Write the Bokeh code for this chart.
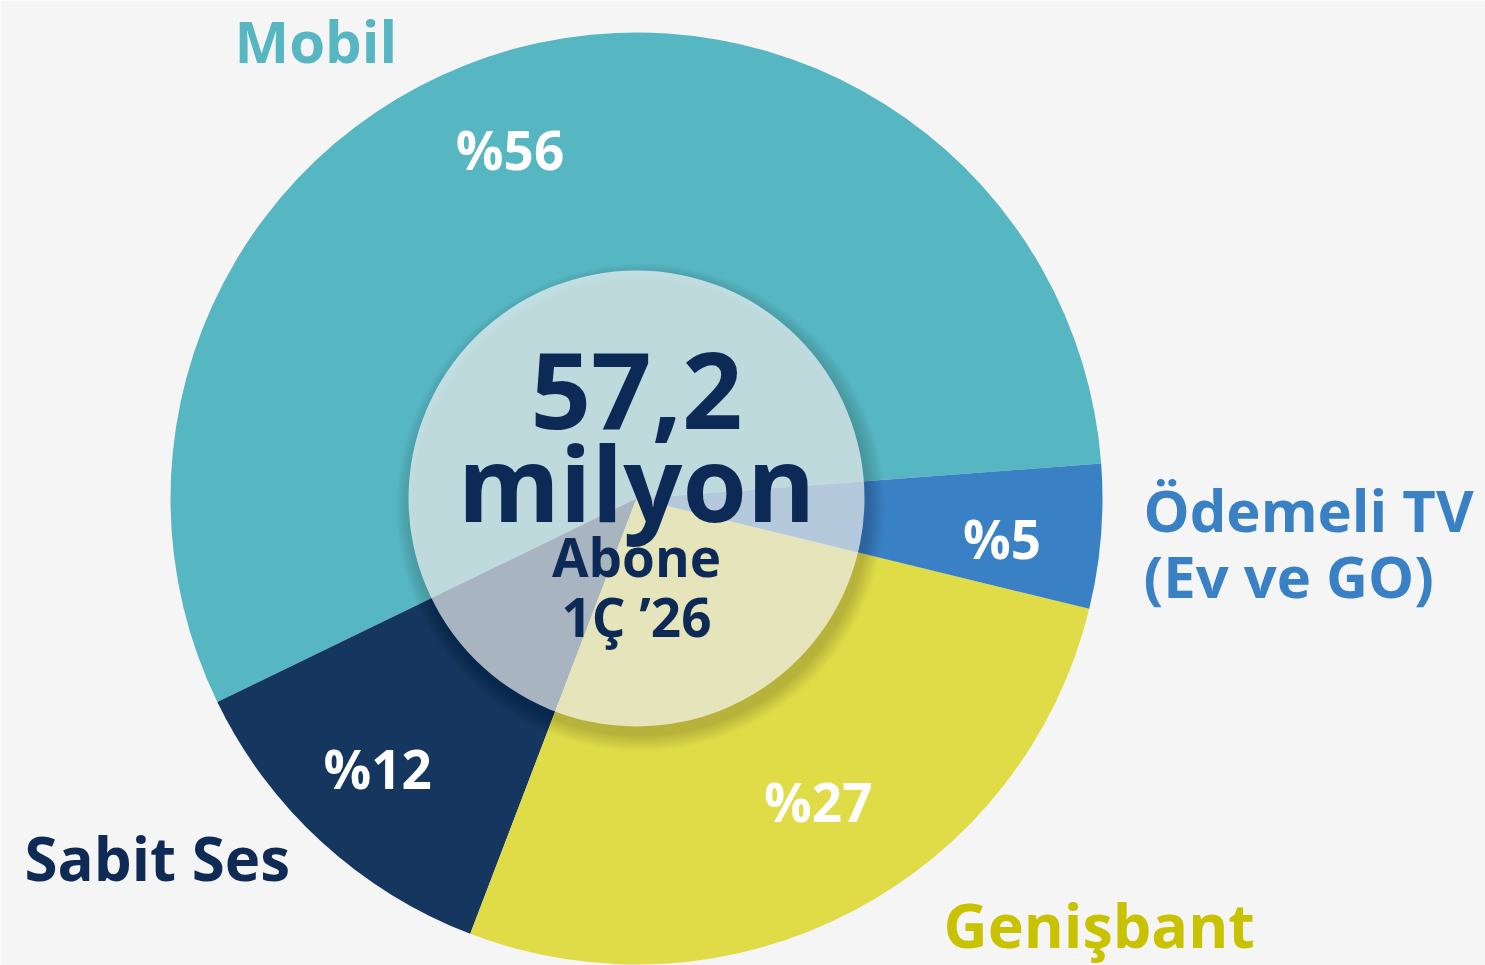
import math
from bokeh.plotting import figure
from bokeh.models import Range1d, ColumnDataSource
from bokeh.core.properties import value
from bokeh.embed import file_html
from bokeh.resources import INLINE

# ---- data ----
categories = ["Mobil", "Sabit Ses", "Genişbant", "Ödemeli TV\n(Ev ve GO)"]
shares = [56, 12, 27, 5]
pct_labels = ["%56", "%12", "%27", "%5"]
colors = ["#56b6c2", "#15365f", "#e0dc48", "#3a80c4"]
label_colors = ["#56b6c2", "#0e2a55", "#c8c200", "#3a80c4"]
total_value = "57,2"
total_unit = "milyon"
sub1 = "Abone"
sub2 = "1Ç ’26"

FONT = value("Open Sans")
W, H = 1485, 965

def Y(ry):
    return H - ry

p = figure(width=W, height=H, x_range=Range1d(0, W), y_range=Range1d(0, H),
           output_backend="svg", toolbar_location=None, min_border=0)
p.axis.visible = False
p.grid.visible = False
p.outline_line_color = None
p.background_fill_color = "#f5f5f5"
p.border_fill_color = "#f5f5f5"

cx, cy = 636, Y(498)
R = 466
r_in = 228
start_deg = 4.3

# ---- wedges ----
tot = sum(shares)
starts, ends, mids = [], [], []
a = math.radians(start_deg)
for s in shares:
    da = 2 * math.pi * s / tot
    starts.append(a)
    ends.append(a + da)
    mids.append(a + da / 2)
    a += da

src = ColumnDataSource(dict(start=starts, end=ends, color=colors))
p.wedge(x=cx, y=cy, radius=R, start_angle="start", end_angle="end",
        fill_color="color", line_color=None, source=src)

# ---- percentage labels along mid angles ----
nudge_deg = [5, -1, 3, -2]
lab_r = [368, 376, 356, 368]
lx = [cx + lab_r[i] * math.cos(mids[i] + math.radians(nudge_deg[i])) for i in range(4)]
ly = [cy + lab_r[i] * math.sin(mids[i] + math.radians(nudge_deg[i])) + 3 for i in range(4)]
p.text(x=lx, y=ly, text=pct_labels, text_color="white", text_font=FONT,
       text_font_style="bold", text_font_size="53px", text_align="center",
       text_baseline="middle")

# ---- shadow of inner circle ----
for i in range(14):
    p.circle(x=cx + 4, y=cy - 9, radius=r_in + 16 - i * 1.2,
             fill_color="black", fill_alpha=0.012, line_color=None)

# ---- inner translucent circle ----
p.circle(x=cx, y=cy, radius=r_in, fill_color="white", fill_alpha=0.65, line_color=None)

navy = "#0d2a57"
center_texts = [total_value, total_unit, sub1, sub2]
center_mid_y = [390, 481, 556, 616]
center_sizes = ["106px", "104px", "53px", "53px"]
for t, ym, fs in zip(center_texts, center_mid_y, center_sizes):
    p.text(x=[cx], y=[Y(ym)], text=[t], text_color=navy, text_font=FONT,
           text_font_style="bold", text_font_size=fs, text_align="center",
           text_baseline="middle")

# ---- category labels ----
cat_x = [234, 24, 943, 1143]
cat_mid_y = [40, 857, 924, 509]
cat_sizes = ["58px", "60px", "61px", "58px"]
for i, c in enumerate(categories):
    lines = c.split("\n")
    for j, ln in enumerate(lines):
        p.text(x=[cat_x[i]], y=[Y(cat_mid_y[i] + j * 66)], text=[ln],
               text_color=label_colors[i], text_font=FONT, text_font_style="bold",
               text_font_size=cat_sizes[i], text_align="left", text_baseline="middle")

open("out.html", "w").write(file_html(p, INLINE))
